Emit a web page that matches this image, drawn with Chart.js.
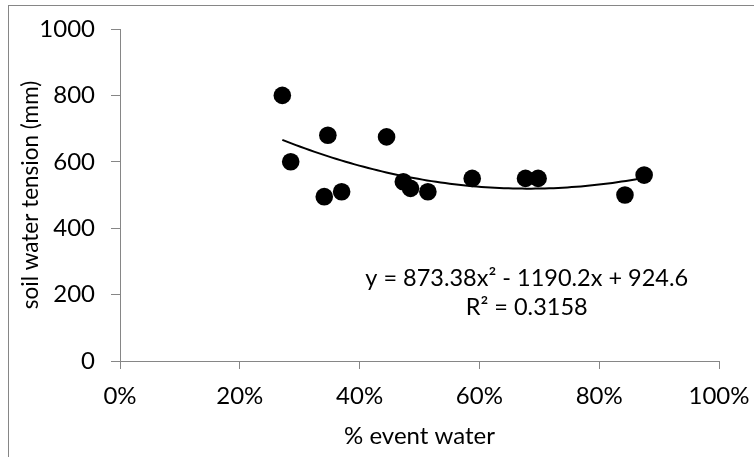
<!DOCTYPE html>
<html>
<head>
<meta charset="utf-8">
<script src="https://cdn.jsdelivr.net/npm/chart.js@4/dist/chart.umd.min.js"></script>
<style>
  html, body { margin: 0; padding: 0; background: #fff; }
  #wrap { width: 754px; height: 457px; position: relative; }
</style>
</head>
<body>
<div id="wrap"><canvas id="c" width="754" height="457"></canvas></div>
<script>
// Share of event water in runoff (fraction) and the matching soil water tension (mm)
const eventWater = [0.271, 0.285, 0.347, 0.341, 0.370, 0.445, 0.473, 0.485, 0.514, 0.588, 0.677, 0.698, 0.875, 0.843];
const tension    = [800, 600, 680, 495, 510, 675, 540, 520, 510, 550, 550, 550, 560, 500];

// Second-order polynomial trendline: y = a x^2 + b x + c
const trendCoef = [873.38, -1190.2, 924.6];
const trendText = ['y = 873.38x\u00B2 - 1190.2x + 924.6', 'R\u00B2 = 0.3158'];

const xTicks = [0, 0.2, 0.4, 0.6, 0.8, 1.0];
const yTicks = [0, 200, 400, 600, 800, 1000];

const FONT = 'Lato, "Open Sans", sans-serif';
const AXIS = '#868686';

const points = eventWater.map((x, i) => ({ x: x, y: tension[i] }));

// trendline spans the observed range of x
const xMin = Math.min(...eventWater), xMax = Math.max(...eventWater);
const trend = [];
const steps = 80;
for (let i = 0; i <= steps; i++) {
  const x = xMin + (xMax - xMin) * i / steps;
  trend.push({ x: x, y: trendCoef[0] * x * x + trendCoef[1] * x + trendCoef[2] });
}

const frame = {
  id: 'frame',
  beforeDraw(chart) {
    const ctx = chart.ctx;
    ctx.save();
    ctx.fillStyle = '#fff';
    ctx.fillRect(0, 0, chart.width, chart.height);
    ctx.strokeStyle = AXIS;
    ctx.lineWidth = 1;
    ctx.strokeRect(8.5, 5.5, 800, 500);
    ctx.restore();
  },
  afterDraw(chart) {
    const ctx = chart.ctx;
    const xs = chart.scales.x, ys = chart.scales.y;
    ctx.save();
    ctx.fillStyle = '#000';
    ctx.font = '23.5px ' + FONT;
    ctx.textAlign = 'center';
    ctx.textBaseline = 'middle';
    const cx = xs.getPixelForValue(0.679);
    ctx.fillText(trendText[0], cx, ys.getPixelForValue(250));
    ctx.fillText(trendText[1], cx, ys.getPixelForValue(160));
    ctx.restore();
  }
};

new Chart(document.getElementById('c'), {
  type: 'scatter',
  data: {
    datasets: [
      {
        type: 'line',
        data: trend,
        borderColor: '#000',
        borderWidth: 2,
        pointRadius: 0,
        fill: false,
        tension: 0,
        order: 0
      },
      {
        data: points,
        backgroundColor: '#000',
        borderColor: '#000',
        borderWidth: 0,
        pointRadius: 8.8,
        pointHoverRadius: 8.8,
        order: 1
      }
    ]
  },
  options: {
    responsive: false,
    animation: false,
    events: [],
    layout: { padding: { left: 0, top: 29, right: 35, bottom: 0 } },
    plugins: { legend: { display: false }, tooltip: { enabled: false } },
    scales: {
      x: {
        type: 'linear',
        min: 0, max: 1,
        afterBuildTicks(scale) { scale.ticks = xTicks.map(v => ({ value: v })); },
        afterFit(scale) { scale.height = 96; scale.paddingLeft = 0; scale.paddingRight = 0; },
        ticks: {
          color: '#000',
          font: { family: FONT, size: 24 },
          padding: 13,
          maxRotation: 0,
          callback: v => Math.round(v * 100) + '%'
        },
        grid: { drawOnChartArea: false, drawTicks: true, tickLength: 8, color: AXIS },
        border: { color: AXIS, width: 1 },
        title: {
          display: true,
          text: '% event water',
          color: '#000',
          font: { family: FONT, size: 24 },
          padding: { top: 0, bottom: 6 }
        }
      },
      y: {
        type: 'linear',
        min: 0, max: 1000,
        afterBuildTicks(scale) { scale.ticks = yTicks.map(v => ({ value: v })); },
        afterFit(scale) { scale.width = 120; scale.paddingTop = 0; scale.paddingBottom = 0; },
        ticks: {
          color: '#000',
          font: { family: FONT, size: 24 },
          padding: 16,
          callback: v => String(v)
        },
        grid: { drawOnChartArea: false, drawTicks: true, tickLength: 9, color: AXIS },
        border: { color: AXIS, width: 1 },
        title: {
          display: true,
          text: 'soil water tension (mm)',
          color: '#000',
          font: { family: FONT, size: 22.5 },
          padding: { top: 17, bottom: 0 }
        }
      }
    }
  },
  plugins: [frame]
});
</script>
</body>
</html>
